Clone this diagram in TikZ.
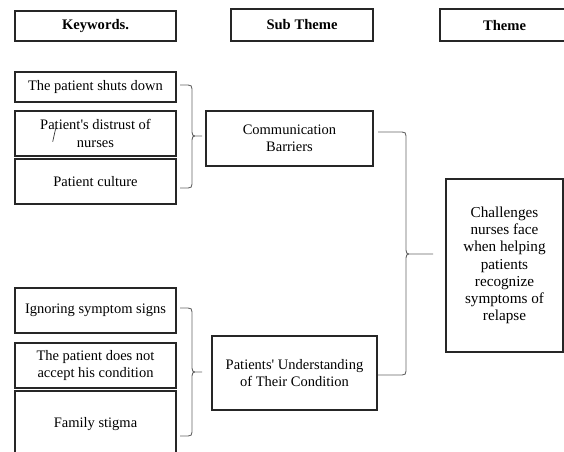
\documentclass[tikz,border=0pt]{standalone}
\usepackage{fontspec}
\setmainfont{Liberation Serif}
\newfontfamily\tnr{Liberation Serif}
\usetikzlibrary{calc}
\newcommand\wordbrace[4]{%
\draw[brace] let \p1=(#1), \p2=(#2), \p3=(#3), \n1={\x1+#4} in
 (\p1) -- (\n1-4pt,\y1) .. controls (\n1-1pt,\y1) and (\n1,\y1-1pt) .. (\n1,\y1-4pt)
 -- (\n1,\y2+4pt) .. controls (\n1,\y2+1pt) and (\n1+1pt,\y2) .. (\n1+3pt,\y2) -- (\p2)
 (\n1+3pt,\y2) .. controls (\n1+1pt,\y2) and (\n1,\y2-1pt) .. (\n1,\y2-4pt)
 -- (\n1,\y3+4pt) .. controls (\n1,\y3+1pt) and (\n1-1pt,\y3) .. (\n1-4pt,\y3) -- (\p3);}
\begin{document}
\begin{tikzpicture}[x=1pt,y=-1pt,
  box/.style={draw=black!85, line width=1.1pt, inner sep=2pt, align=center,
    font=\tnr\fontsize{14.5}{17.5}\selectfont},
  head/.style={box, font=\tnr\bfseries\fontsize{14.6}{17}\selectfont},
  brace/.style={draw=black!60, line width=0.9pt}]
\fill[white] (0,0) rectangle (564,451);
\useasboundingbox (0,0) rectangle (564,451);
\clip (0,0) rectangle (564,451);
% headers
\node[head, minimum width=161pt, minimum height=30pt] (hk) at (95.5,26) {Keywords.};
\node[head, minimum width=142pt, minimum height=32pt] (hs) at (302,25) {Sub Theme};
\node[head, minimum width=129pt, minimum height=32pt] (ht) at (504.5,25) {Theme};
% keywords
\node[box, minimum width=161pt, minimum height=30pt] (k1) at (95.5,87) {The patient shuts down};
\node[box, minimum width=161pt, minimum height=45pt] (k2) at (95.5,133.5) {Patient's distrust of\\nurses};
\node[box, minimum width=161pt, minimum height=45pt] (k3) at (95.5,181.5) {Patient culture};
\node[box, minimum width=161pt, minimum height=45pt] (k4) at (95.5,310.5) {Ignoring symptom signs};
\node[box, minimum width=161pt, minimum height=45pt] (k5) at (95.5,365.5) {The patient does not\\accept his condition};
\node[box, minimum width=161pt, minimum height=66pt] (k6) at (95.5,424) {Family stigma};
% sub themes
\node[box, minimum width=167pt, minimum height=55pt] (cb) at (289.5,138.5) {Communication\\Barriers};
\node[box, minimum width=165pt, minimum height=74pt] (pu) at (294.5,373) {Patients' Understanding\\of Their Condition};
% theme
\node[box, minimum width=117pt, minimum height=173pt,
  font=\tnr\fontsize{15.2}{17.2}\selectfont] (th) at (504.5,265.5)
  {Challenges\\nurses face\\when helping\\patients\\recognize\\symptoms of\\relapse};
% braces
\coordinate (b1t) at (180,85);  \coordinate (b1m) at (202,136); \coordinate (b1b) at (180,188);
\coordinate (b2t) at (180,308); \coordinate (b2m) at (202,372); \coordinate (b2b) at (180,436);
\coordinate (b3t) at (378,132); \coordinate (b3m) at (433,254); \coordinate (b3b) at (378,375);
\wordbrace{b1t}{b1m}{b1b}{12pt}
\wordbrace{b2t}{b2m}{b2b}{12pt}
\wordbrace{b3t}{b3m}{b3b}{28pt}
% stray pen stroke
\draw[line width=0.7pt, black!80] (55.7,128.3) -- (52.7,141.7);
\end{tikzpicture}
\end{document}
